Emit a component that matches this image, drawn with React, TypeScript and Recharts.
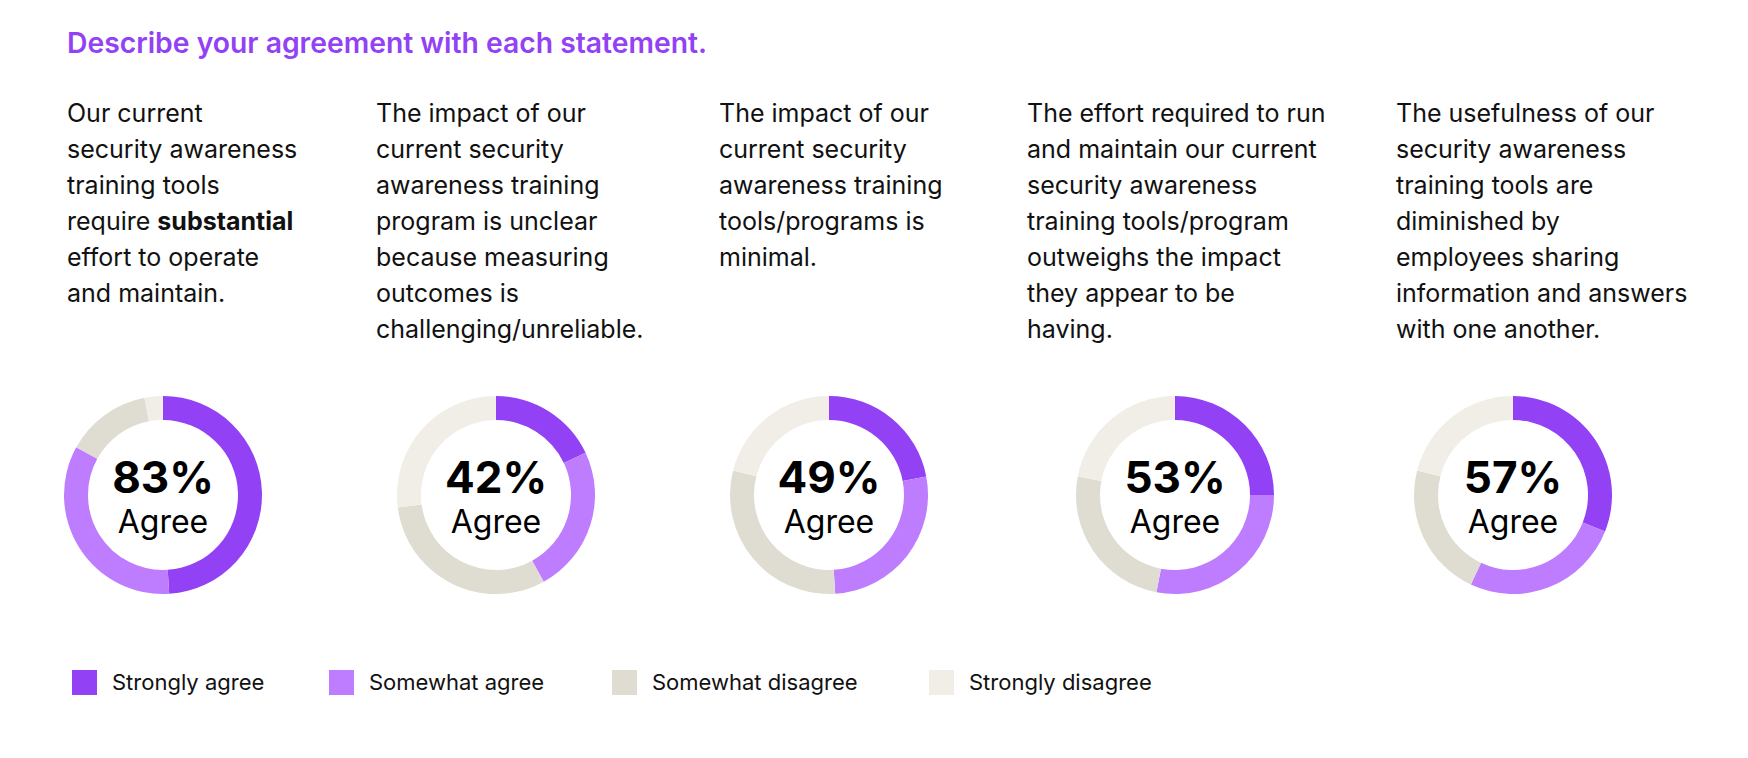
import React from "react";
import { PieChart, Pie, Cell, Label } from "recharts";

// Response categories and their colours
const categories = ["Strongly agree", "Somewhat agree", "Somewhat disagree", "Strongly disagree"];
const categoryColors = ["#9241F5", "#BD7DFE", "#DFDCD2", "#F1EEE7"];

// Share of respondents (%) per statement, in category order
const statement1Values = [49, 34, 14, 3];
const statement2Values = [18, 24, 31, 27];
const statement3Values = [22, 27, 30, 21];
const statement4Values = [25, 28, 25, 22];
const statement5Values = [31, 26, 22, 21];

// Statement text, line by line (**word** is drawn bold)
const statement1Lines = ["Our current", "security awareness", "training tools", "require **substantial**", "effort to operate", "and maintain."];
const statement2Lines = ["The impact of our", "current security", "awareness training", "program is unclear", "because measuring", "outcomes is", "challenging/unreliable."];
const statement3Lines = ["The impact of our", "current security", "awareness training", "tools/programs is", "minimal."];
const statement4Lines = ["The effort required to run", "and maintain our current", "security awareness", "training tools/program", "outweighs the impact", "they appear to be", "having."];
const statement5Lines = ["The usefulness of our", "security awareness", "training tools are", "diminished by", "employees sharing", "information and answers", "with one another."];

const title = "Describe your agreement with each statement.";
const centerCaption = "Agree";

const FONT = "Inter, 'Noto Sans', sans-serif";

const statements = [
  { lines: statement1Lines, values: statement1Values, textX: 67, cx: 163 },
  { lines: statement2Lines, values: statement2Values, textX: 376, cx: 496 },
  { lines: statement3Lines, values: statement3Values, textX: 719, cx: 829 },
  { lines: statement4Lines, values: statement4Values, textX: 1027, cx: 1175 },
  { lines: statement5Lines, values: statement5Values, textX: 1396, cx: 1513 },
];

const legendX = [72, 329, 612, 929];

function renderLine(line: string) {
  const parts = line.split(/(\*\*[^*]+\*\*)/);
  return parts.map((p, i) =>
    p.startsWith("**") ? (
      <b key={i} style={{ fontWeight: 700 }}>{p.slice(2, -2)}</b>
    ) : (
      <span key={i}>{p}</span>
    )
  );
}

const CHART = 220;
const CY = 495;

function Donut({ values }: { values: number[] }) {
  const data = categories.map((name, i) => ({ name, value: values[i] }));
  const agree = values[0] + values[1];
  return (
    <PieChart width={CHART} height={CHART}>
      <Pie
        data={data}
        dataKey="value"
        nameKey="name"
        cx="50%"
        cy="50%"
        innerRadius={75}
        outerRadius={99}
        startAngle={90}
        endAngle={-270}
        stroke="none"
        isAnimationActive={false}
      >
        {data.map((d, i) => (
          <Cell key={d.name} fill={categoryColors[i]} />
        ))}
        <Label
          position="center"
          content={(props: any) => {
            const vb = props.viewBox || {};
            const x = vb.cx ?? CHART / 2;
            const y = vb.cy ?? CHART / 2;
            return (
              <g>
                <text x={x} y={y - 2} textAnchor="middle" fontFamily={FONT} fontSize={44} fontWeight={700} fill="#000">
                  {`${agree}%`}
                </text>
                <text x={x} y={y + 38} textAnchor="middle" fontFamily={FONT} fontSize={32} fill="#000">
                  {centerCaption}
                </text>
              </g>
            );
          }}
        />
      </Pie>
    </PieChart>
  );
}

export default function App() {
  return (
    <div
      style={{
        position: "absolute",
        left: 0,
        top: 0,
        width: 1748,
        height: 758,
        background: "#fff",
        fontFamily: FONT,
        overflow: "hidden",
      }}
    >
      <div
        style={{
          position: "absolute",
          left: 67,
          top: 26,
          fontSize: 28.3,
          fontWeight: 600,
          color: "#9241F5",
          whiteSpace: "nowrap",
        }}
      >
        {title}
      </div>

      {statements.map((s, k) => (
        <React.Fragment key={k}>
          <div
            style={{
              position: "absolute",
              left: s.textX,
              top: 95,
              fontSize: 25,
              lineHeight: "36px",
              color: "#111",
              whiteSpace: "nowrap",
            }}
          >
            {s.lines.map((l, i) => (
              <div key={i}>{renderLine(l)}</div>
            ))}
          </div>
          <div style={{ position: "absolute", left: s.cx - CHART / 2, top: CY - CHART / 2 }}>
            <Donut values={s.values} />
          </div>
        </React.Fragment>
      ))}

      {categories.map((c, i) => (
        <div
          key={c}
          style={{
            position: "absolute",
            left: legendX[i],
            top: 669,
            display: "flex",
            alignItems: "center",
            whiteSpace: "nowrap",
          }}
        >
          <div style={{ width: 25, height: 25, background: categoryColors[i], marginRight: 15 }} />
          <span style={{ fontSize: 22, color: "#111" }}>{c}</span>
        </div>
      ))}
    </div>
  );
}
